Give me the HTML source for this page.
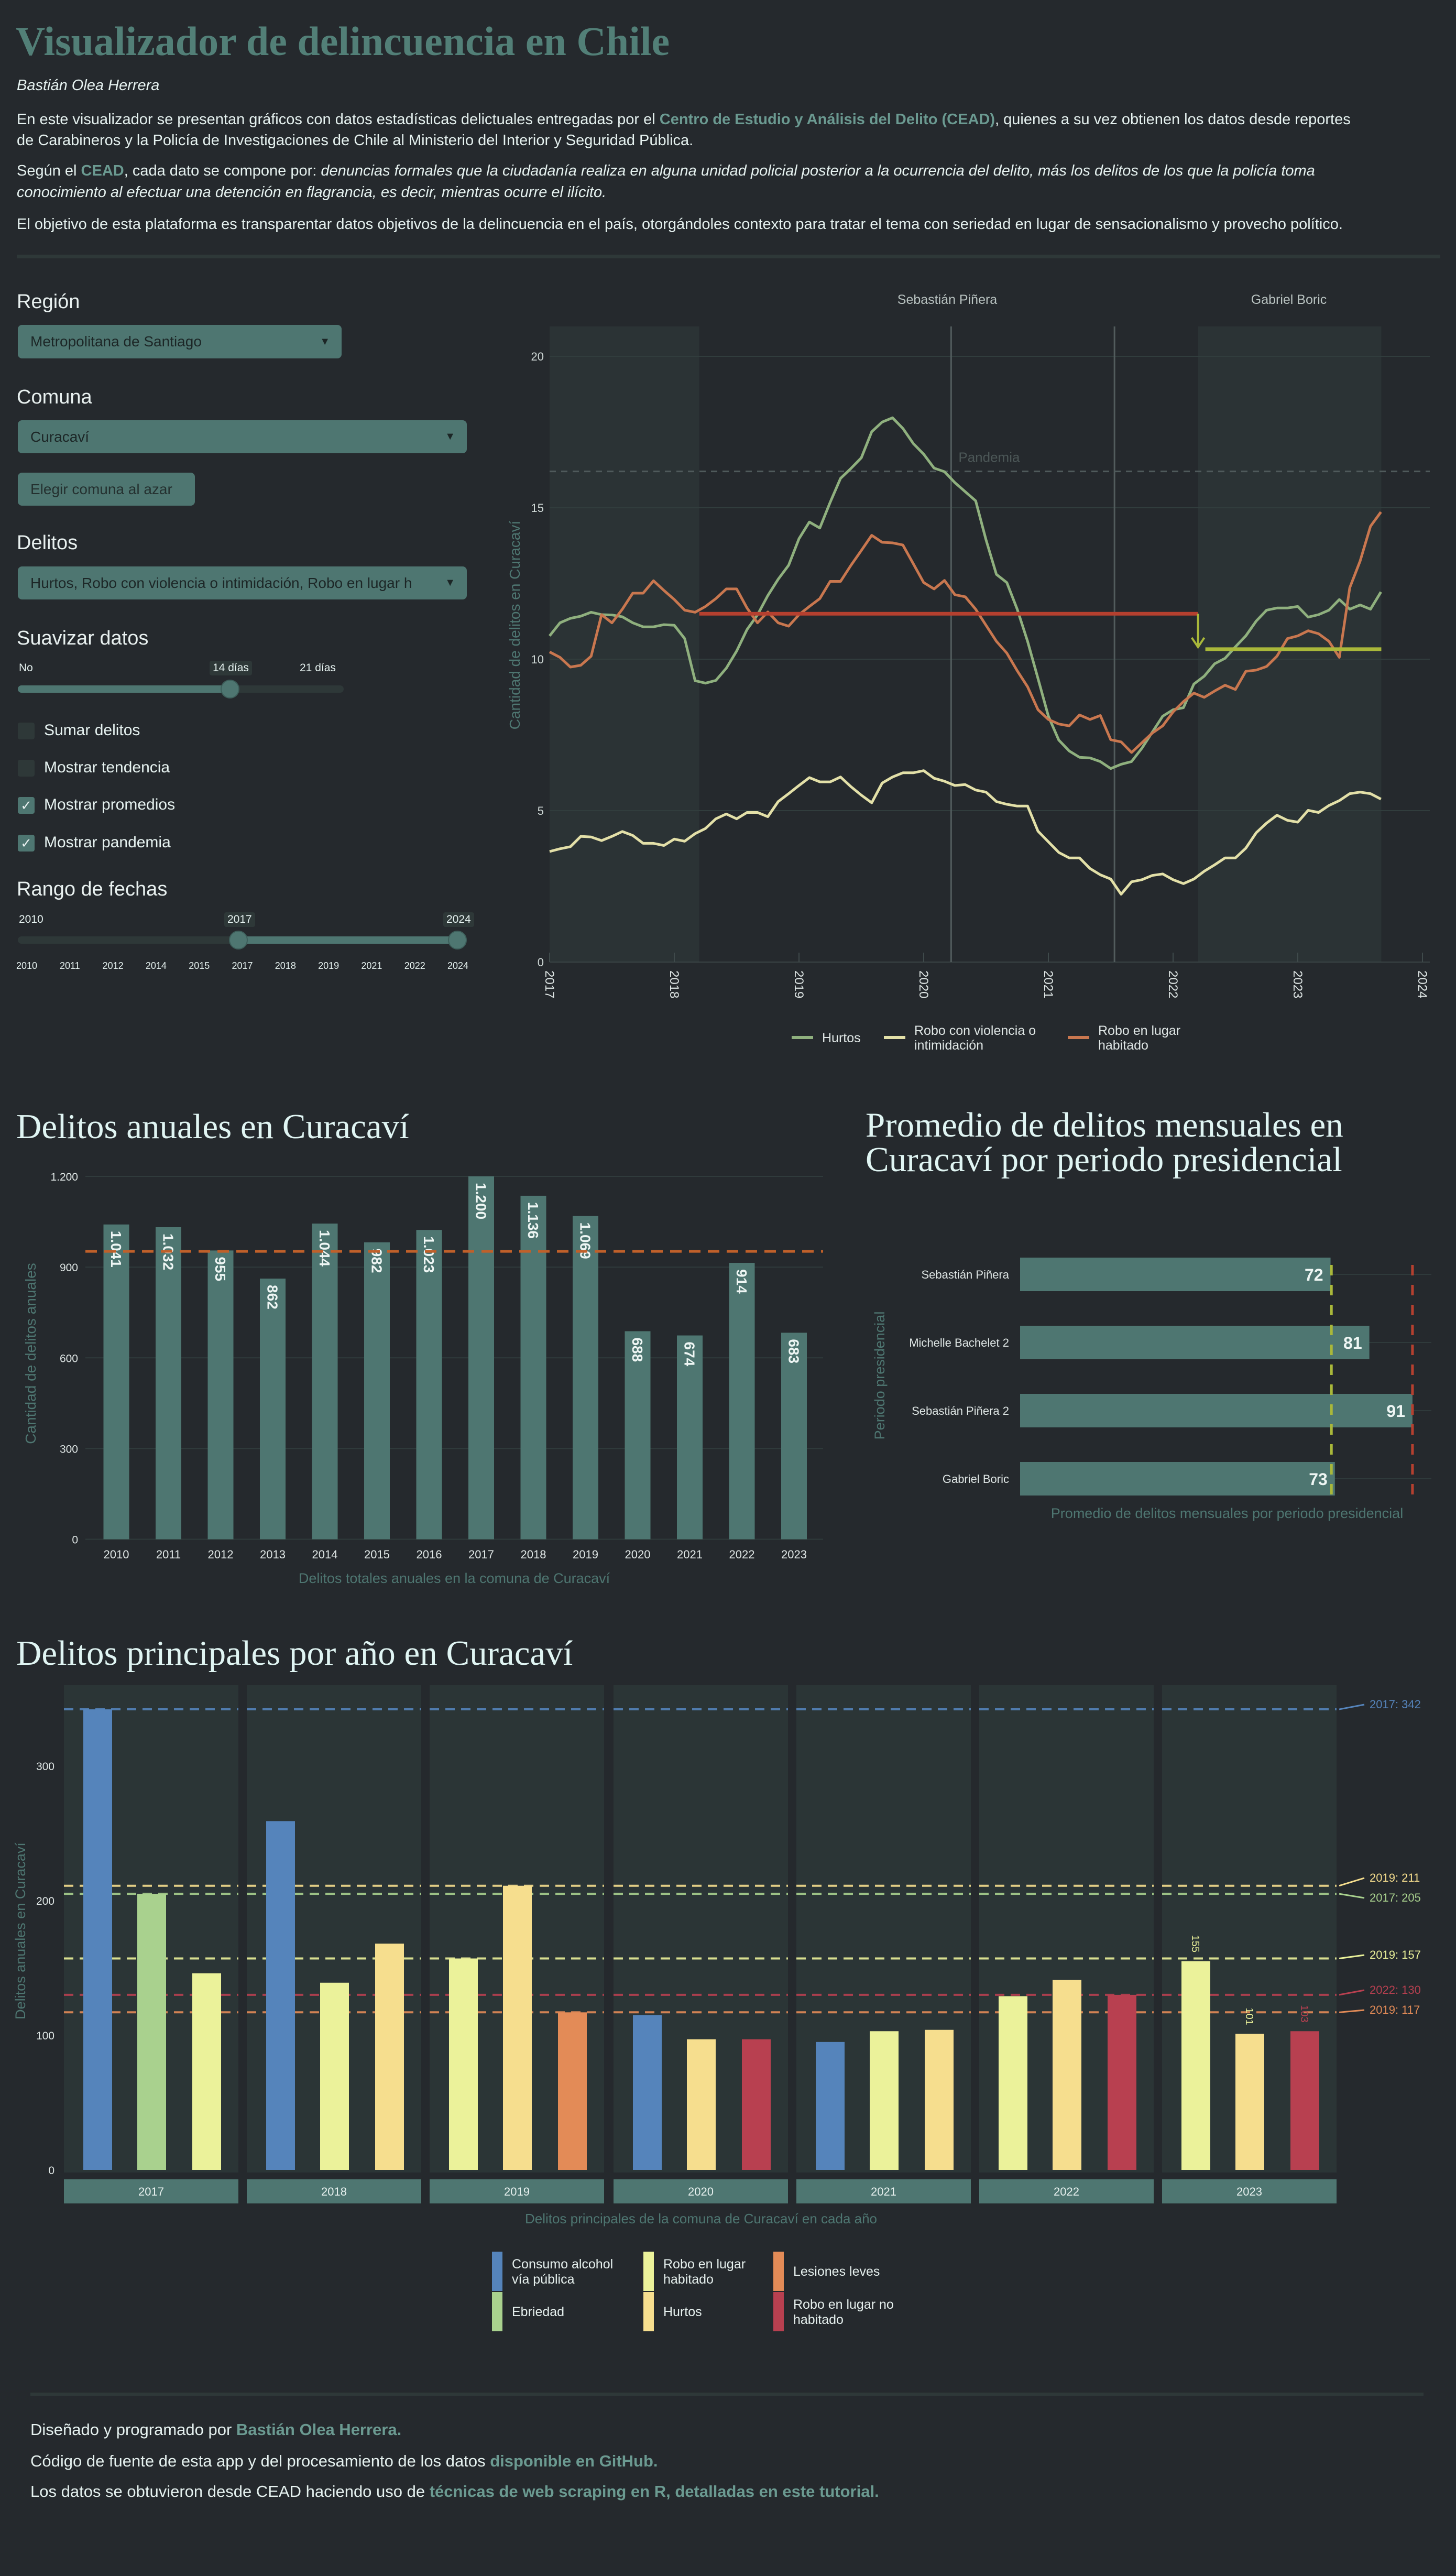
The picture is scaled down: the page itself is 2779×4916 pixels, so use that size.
<!DOCTYPE html>
<html lang="es"><head><meta charset="utf-8">
<style>
html,body{margin:0;padding:0;}
body{width:2779px;height:4916px;background:#25292d;position:relative;overflow:hidden;font-family:"Liberation Sans",sans-serif;color:#e6f2f0;}
.abs{position:absolute;white-space:nowrap;}
.p{font-size:29px;left:32px;}
.lk{color:#6b9a91;font-weight:bold;}
.lbl{font-size:38px;left:32px;color:#e8f0ef;}
.sel{position:absolute;left:34px;background:#4e7671;border-radius:8px;color:#1c2626;font-size:28px;box-sizing:border-box;padding-left:24px;display:flex;align-items:center;}
.sel .car{position:absolute;right:22px;font-size:20px;color:#1c2626;}
.cb{position:absolute;left:34px;width:32px;height:32px;border-radius:4px;background:#2e3838;color:#e8f0ef;font-size:26px;text-align:center;line-height:32px;}
.cbt{font-size:30px;left:84px;}
.sm{font-size:21px;}
.tag{background:#2e3838;padding:2px 6px;border-radius:4px;}
.stitle{font-family:"Liberation Serif",serif;font-size:67px;color:#e0f5f3;}
svg text{font-family:"Liberation Sans",sans-serif;}
</style></head>
<body>
<div class="abs" style="left:30px;top:34px;font-family:'Liberation Serif',serif;font-weight:bold;font-size:78px;color:#527f77;">Visualizador de delincuencia en Chile</div>
<div class="abs" style="left:32px;top:147px;font-size:29px;font-style:italic;">Bastián Olea Herrera</div>
<div class="abs p" style="top:212px;">En este visualizador se presentan gráficos con datos estadísticas delictuales entregadas por el <span class="lk">Centro de Estudio y Análisis del Delito (CEAD)</span>, quienes a su vez obtienen los datos desde reportes</div>
<div class="abs p" style="top:252px;">de Carabineros y la Policía de Investigaciones de Chile al Ministerio del Interior y Seguridad Pública.</div>
<div class="abs p" style="top:310px;">Según el <span class="lk">CEAD</span>, cada dato se compone por: <i>denuncias formales que la ciudadanía realiza en alguna unidad policial posterior a la ocurrencia del delito, más los delitos de los que la policía toma</i></div>
<div class="abs p" style="top:351px;"><i>conocimiento al efectuar una detención en flagrancia, es decir, mientras ocurre el ilícito.</i></div>
<div class="abs p" style="top:412px;">El objetivo de esta plataforma es transparentar datos objetivos de la delincuencia en el país, otorgándoles contexto para tratar el tema con seriedad en lugar de sensacionalismo y provecho político.</div>
<div class="abs" style="left:32px;top:486px;width:2717px;height:7px;background:#2e3838;"></div>

<!-- sidebar -->
<div class="abs lbl" style="top:555px;">Región</div>
<div class="sel" style="top:620px;width:618px;height:64px;">Metropolitana de Santiago<span class="car">▼</span></div>
<div class="abs lbl" style="top:737px;">Comuna</div>
<div class="sel" style="top:802px;width:857px;height:63px;">Curacaví<span class="car">▼</span></div>
<div class="sel" style="top:902px;width:338px;height:63px;color:#24302f;">Elegir comuna al azar</div>
<div class="abs lbl" style="top:1015px;">Delitos</div>
<div class="sel" style="top:1081px;width:857px;height:63px;overflow:hidden;">Hurtos, Robo con violencia o intimidación, Robo en lugar h<span class="car">▼</span></div>
<div class="abs lbl" style="top:1197px;">Suavizar datos</div>
<div class="abs sm" style="left:36px;top:1263px;">No</div>
<div class="abs sm tag" style="left:400px;top:1261px;">14 días</div>
<div class="abs sm" style="left:572px;top:1263px;">21 días</div>
<div class="abs" style="left:34px;top:1308px;width:622px;height:14px;border-radius:7px;background:#2e3838;"></div>
<div class="abs" style="left:34px;top:1308px;width:405px;height:14px;border-radius:7px;background:#4e7671;"></div>
<div class="abs" style="left:421px;top:1297px;width:36px;height:36px;border-radius:18px;background:#4e7671;border:2px solid #3d5e5a;box-sizing:border-box;"></div>
<div class="cb" style="top:1379px;"></div>
<div class="abs cbt" style="top:1377px;">Sumar delitos</div>
<div class="cb" style="top:1450px;"></div>
<div class="abs cbt" style="top:1448px;">Mostrar tendencia</div>
<div class="cb" style="top:1521px;background:#4e7671;">✓</div>
<div class="abs cbt" style="top:1519px;">Mostrar promedios</div>
<div class="cb" style="top:1593px;background:#4e7671;">✓</div>
<div class="abs cbt" style="top:1591px;">Mostrar pandemia</div>
<div class="abs lbl" style="top:1676px;">Rango de fechas</div>
<div class="abs sm" style="left:36px;top:1743px;">2010</div>
<div class="abs sm tag" style="left:428px;top:1741px;">2017</div>
<div class="abs sm tag" style="left:846px;top:1741px;">2024</div>
<div class="abs" style="left:34px;top:1787px;width:840px;height:14px;border-radius:7px;background:#2e3838;"></div>
<div class="abs" style="left:455px;top:1787px;width:418px;height:14px;background:#4e7671;"></div>
<div class="abs" style="left:437px;top:1776px;width:36px;height:36px;border-radius:18px;background:#4e7671;border:2px solid #3d5e5a;box-sizing:border-box;"></div>
<div class="abs" style="left:855px;top:1776px;width:36px;height:36px;border-radius:18px;background:#4e7671;border:2px solid #3d5e5a;box-sizing:border-box;"></div>
<div id="dateticks"></div>

<div class="abs stitle" style="left:31px;top:2112px;">Delitos anuales en Curacaví</div>
<div class="abs stitle" style="left:1652px;top:2114px;line-height:66px;">Promedio de delitos mensuales en<br>Curacaví por periodo presidencial</div>
<div class="abs stitle" style="left:31px;top:3117px;">Delitos principales por año en Curacaví</div>

<div class="abs" style="left:58px;top:4566px;width:2659px;height:6px;background:#2e3838;"></div>
<div class="abs" style="left:58px;top:4619px;font-size:31px;">Diseñado y programado por <span class="lk">Bastián Olea Herrera.</span></div>
<div class="abs" style="left:58px;top:4679px;font-size:31px;">Código de fuente de esta app y del procesamiento de los datos <span class="lk">disponible en GitHub.</span></div>
<div class="abs" style="left:58px;top:4737px;font-size:31px;">Los datos se obtuvieron desde CEAD haciendo uso de <span class="lk">técnicas de web scraping en R, detalladas en este tutorial.</span></div>

<svg id="charts" width="2779" height="4916" style="position:absolute;left:0;top:0;" xmlns="http://www.w3.org/2000/svg"></svg>

<script>
// ---------- line chart data ----------
const lineSeriesNames = ["Hurtos","Robo con violencia o intimidación","Robo en lugar habitado"];
const hurtos = [10.77,11.2,11.35,11.42,11.55,11.47,11.46,11.4,11.2,11.07,11.07,11.14,11.12,10.68,9.29,9.21,9.3,9.7,10.27,10.98,11.46,12.1,12.64,13.1,13.98,14.53,14.33,15.18,15.97,16.3,16.65,17.51,17.83,17.97,17.62,17.12,16.77,16.31,16.19,15.83,15.53,15.23,13.94,12.8,12.53,11.65,10.59,9.36,8.12,7.33,6.97,6.76,6.74,6.62,6.39,6.53,6.62,7.06,7.59,8.12,8.33,8.4,9.18,9.44,9.85,10.03,10.41,10.77,11.26,11.62,11.69,11.69,11.74,11.39,11.47,11.62,11.97,11.65,11.79,11.65,12.22];
const roboViolencia = [3.65,3.74,3.81,4.15,4.13,4.01,4.15,4.31,4.18,3.92,3.92,3.85,4.06,3.99,4.24,4.41,4.73,4.89,4.73,4.94,4.94,4.8,5.3,5.56,5.83,6.09,5.95,5.95,6.11,5.79,5.51,5.26,5.91,6.11,6.25,6.25,6.32,6.07,5.97,5.83,5.86,5.68,5.61,5.3,5.21,5.15,5.15,4.32,3.97,3.62,3.44,3.44,3.09,2.88,2.74,2.24,2.65,2.72,2.86,2.91,2.72,2.59,2.74,3.0,3.21,3.44,3.44,3.76,4.27,4.59,4.85,4.68,4.62,5.01,4.94,5.17,5.33,5.56,5.61,5.56,5.38];
const roboHabitado = [10.24,10.06,9.74,9.8,10.1,11.47,11.2,11.65,12.18,12.18,12.59,12.27,11.97,11.62,11.55,11.74,12.0,12.32,12.32,11.69,11.2,11.56,11.2,11.09,11.47,11.74,12.0,12.57,12.57,13.1,13.59,14.09,13.86,13.84,13.77,13.15,12.53,12.32,12.6,12.13,12.06,11.65,11.12,10.59,10.2,9.62,9.09,8.33,8.01,7.86,7.8,8.16,8.01,8.14,7.34,7.27,6.92,7.24,7.56,7.8,8.26,8.6,8.88,8.74,8.95,9.14,9.0,9.6,9.64,9.76,10.1,10.68,10.77,10.94,10.84,10.59,10.06,12.36,13.24,14.39,14.86];
const lineYTicks = [0,5,10,15,20];
const lineXTicks = [2017,2018,2019,2020,2021,2022,2023,2024];
const govStarts = [2018.2,2022.2];
const govEnds = [2022.2,2023.67];
const govAverages = [11.5,10.33];
const pandemicLevel = [16.2];
const pandemicDates = [2020.22,2021.53];

// ---------- annual chart data ----------
const annualYears = [2010,2011,2012,2013,2014,2015,2016,2017,2018,2019,2020,2021,2022,2023];
const annualValues = [1041,1032,955,862,1044,982,1023,1200,1136,1069,688,674,914,683];
const annualTicks = [0,300,600,900,1200];
const annualAverage = [952];

// ---------- presidential chart data ----------
const presLabels = ["Sebastián Piñera","Michelle Bachelet  2","Sebastián Piñera  2","Gabriel Boric"];
const presValues = [72,81,91,73];
const presRefs = [72.2,91];

// ---------- facet chart data ----------
const facetYears = ["2017","2018","2019","2020","2021","2022","2023"];
const facetCats = [["Consumo alcohol vía pública","Ebriedad","Robo en lugar habitado"],["Consumo alcohol vía pública","Robo en lugar habitado","Hurtos"],["Robo en lugar habitado","Hurtos","Lesiones leves"],["Consumo alcohol vía pública","Hurtos","Robo en lugar no habitado"],["Consumo alcohol vía pública","Robo en lugar habitado","Hurtos"],["Robo en lugar habitado","Hurtos","Robo en lugar no habitado"],["Robo en lugar habitado","Hurtos","Robo en lugar no habitado"]];
const facetValues = [[342,205,146],[259,139,168],[157,211,117],[115,97,97],[95,103,104],[129,141,130],[155,101,103]];
const facetTicks = [0,100,200,300];
const facetRefValues = [342,211,205,157,130,117];
const facetRefLabels = ["2017: 342","2019: 211","2017: 205","2019: 157","2022: 130","2019: 117"];
const facetRefCats = ["Consumo alcohol vía pública","Hurtos","Ebriedad","Robo en lugar habitado","Robo en lugar no habitado","Lesiones leves"];

const catColors = {"Consumo alcohol vía pública":"#5584bb","Ebriedad":"#a9d18e","Robo en lugar habitado":"#ebf29a","Hurtos":"#f6de8e","Lesiones leves":"#e38b57","Robo en lugar no habitado":"#b84050"};

const svg = document.getElementById('charts');
const NS = "http://www.w3.org/2000/svg";
function mk(tag, attrs, parent){
  const e = document.createElementNS(NS, tag);
  for (const k in attrs) e.setAttribute(k, attrs[k]);
  (parent||svg).appendChild(e);
  return e;
}
function txt(s, attrs, parent){ const t = mk('text', attrs, parent); t.textContent = s; return t; }

// date slider ticks
const dtLabels = ["2010","2011","2012","2014","2015","2017","2018","2019","2021","2022","2024"];
const dtWrap = document.getElementById('dateticks');
dtLabels.forEach((l,i)=>{
  const d = document.createElement('div');
  
  
  d.className = 'abs';
  d.style.cssText = 'font-size:18px;top:1833px;left:'+(51+i*82.3-20)+'px;width:40px;text-align:center;';
  d.textContent = l;
  dtWrap.appendChild(d);
});

// ================= LINE CHART =================
const lx = t => 1049 + (t-2017)*238;
const ly = v => 1836 - v*57.8;
const L = mk('g',{});


let s1 = mk('rect',{x:lx(2017),y:623,width:lx(2018.2)-lx(2017),height:ly(0)-623,fill:'#2b3335'},L);


let s2 = mk('rect',{x:lx(govStarts[1]),y:623,width:lx(govEnds[1])-lx(govStarts[1]),height:ly(0)-623,fill:'#2b3335'},L);


lineYTicks.forEach(v=>{
  if(v>0){ const g = mk('line',{x1:lx(2017),x2:2729,y1:ly(v),y2:ly(v),stroke:'#313d3d','stroke-width':2},L);
  
   }
  const t = txt(String(v),{x:1038,y:ly(v)+8,'text-anchor':'end','font-size':22,fill:'#cfd8d6'},L);
  
  
});
const axl = mk('line',{x1:lx(2017),x2:2729,y1:ly(0),y2:ly(0),stroke:'#3a4445','stroke-width':2},L);


lineXTicks.forEach(yr=>{
  const tk = mk('line',{x1:lx(yr),x2:lx(yr),y1:ly(0)-18,y2:ly(0),stroke:'#3f4a4b','stroke-width':2},L);
  
  
  const t = txt(String(yr),{x:0,y:0,'font-size':24,fill:'#dfe6e5',transform:`translate(${lx(yr)-8},${ly(0)+16}) rotate(90)`},L);
  
  
});
pandemicDates.forEach(d=>{
  const v = mk('line',{x1:lx(d),x2:lx(d),y1:623,y2:ly(0),stroke:'#525c5d','stroke-width':3},L);
  
  
});
const pl = mk('line',{x1:lx(2017),x2:2729,y1:ly(pandemicLevel[0]),y2:ly(pandemicLevel[0]),stroke:'#4f5a5b','stroke-width':3,'stroke-dasharray':'12,10'},L);


const pt = txt('Pandemia',{x:lx(pandemicDates[0])+14,y:ly(pandemicLevel[0])-18,'font-size':26,fill:'#4c5757'},L);


const pres1 = txt('Sebastián Piñera',{x:1808,y:580,'text-anchor':'middle','font-size':25,fill:'#b9c3c1'},L);


const pres2 = txt('Gabriel Boric',{x:2460,y:580,'text-anchor':'middle','font-size':25,fill:'#b9c3c1'},L);


const yt = txt('Cantidad de delitos en Curacaví',{x:0,y:0,'text-anchor':'middle','font-size':28,fill:'#4e7671',transform:'translate(992,1193) rotate(-90)'},L);


const seriesData = [hurtos, roboViolencia, roboHabitado];
const seriesColors = ['#8fb07e','#e3e0a8','#c9774f'];
seriesData.forEach((arr,si)=>{
  const d = arr.map((v,i)=>(i?'L':'M')+lx(2017+i/12).toFixed(1)+','+ly(v).toFixed(1)).join(' ');
  const p = mk('path',{d:d,fill:'none',stroke:seriesColors[si],'stroke-width':5,'stroke-linejoin':'round'},L);
  
  
});
const av1 = mk('line',{x1:lx(govStarts[0]),x2:lx(govEnds[0]),y1:ly(govAverages[0]),y2:ly(govAverages[0]),stroke:'#b5402f','stroke-width':7},L);


const av2 = mk('line',{x1:lx(govStarts[1])+14,x2:lx(govEnds[1]),y1:ly(govAverages[1]),y2:ly(govAverages[1]),stroke:'#a9b83a','stroke-width':7},L);


const ax = lx(govStarts[1]);
const arw = mk('path',{d:`M${ax},${ly(govAverages[0])} L${ax},${ly(govAverages[1])-4} M${ax-12},${ly(govAverages[1])-22} L${ax},${ly(govAverages[1])-4} L${ax+12},${ly(govAverages[1])-22}`,fill:'none',stroke:'#a9b83a','stroke-width':4},L);


// legend
const legX = [1511,1687,2038];
const legText = [["Hurtos"],["Robo con violencia o","intimidación"],["Robo en lugar","habitado"]];
legX.forEach((x,i)=>{
  const ln = mk('line',{x1:x,x2:x+41,y1:1980,y2:1980,stroke:seriesColors[i],'stroke-width':6},L);
  
  
  legText[i].forEach((s,j)=>{
    const yy = legText[i].length===1 ? 1989 : 1975 + j*28;
    const t = txt(s,{x:x+58,y:yy,'font-size':25,fill:'#dfe6e5'},L);
    
    
  });
});

// ================= ANNUAL BAR CHART =================
const A = mk('g',{});


const ax0 = 222, astep = 99.5;
const axx = i => ax0 + i*astep;
const ay = v => 2937.5 - v*(692.5/1200);
const fmt = v => v>=1000 ? Math.floor(v/1000)+'.'+String(v%1000).padStart(3,'0') : String(v);
annualTicks.forEach(v=>{
  const g = mk('line',{x1:163,x2:1571,y1:ay(v),y2:ay(v),stroke:'#303b3c','stroke-width':2},A);
  
  
  const t = txt(fmt(v),{x:149,y:ay(v)+8,'text-anchor':'end','font-size':21,fill:'#dfe6e5'},A);
  
  
});
annualValues.forEach((v,i)=>{
  const r = mk('rect',{x:axx(i)-24.5,y:ay(v),width:49,height:ay(0)-ay(v),fill:'#4e7671'},A);
  
  
  const t = txt(fmt(v),{x:0,y:0,'font-size':28,'font-weight':'bold',fill:'#eef6f4',transform:`translate(${axx(i)-10},${ay(v)+12}) rotate(90)`},A);
  
  
  const yl = txt(String(annualYears[i]),{x:axx(i),y:2974,'text-anchor':'middle','font-size':22,fill:'#dfe6e5'},A);
  
  
});
const aavg = mk('line',{x1:163,x2:1571,y1:ay(annualAverage[0]),y2:ay(annualAverage[0]),stroke:'#c0602a','stroke-width':5,'stroke-dasharray':'22,14'},A);


const axt = txt('Delitos totales anuales en la comuna de Curacaví',{x:867,y:3021,'text-anchor':'middle','font-size':27,fill:'#4e7671'},A);


const ayt = txt('Cantidad de delitos anuales',{x:0,y:0,'text-anchor':'middle','font-size':28,fill:'#4e7671',transform:'translate(68,2583) rotate(-90)'},A);



// ================= PRESIDENTIAL CHART =================
const P = mk('g',{});


const px = v => 1947 + v*8.23;
const pyc = i => 2432 + i*130;
presValues.forEach((v,i)=>{
  const g = mk('line',{x1:1947,x2:2732,y1:pyc(i),y2:pyc(i),stroke:'#2f3a3b','stroke-width':2},P);
  
  
  const r = mk('rect',{x:1947,y:pyc(i)-32,width:px(v)-1947,height:64,fill:'#4e7671'},P);
  
  
  const t = txt(String(v),{x:px(v)-14,y:pyc(i)+12,'text-anchor':'end','font-size':32,'font-weight':'bold',fill:'#eef6f4'},P);
  
  
  const l = txt(presLabels[i],{x:1926,y:pyc(i)+8,'text-anchor':'end','font-size':22,fill:'#dfe6e5'},P);
  
  
});
const refCols = ['#a9b83a','#b5402f'];
presRefs.forEach((v,i)=>{
  const l = mk('line',{x1:px(v),x2:px(v),y1:2414,y2:2862,stroke:refCols[i],'stroke-width':5,'stroke-dasharray':'20,18'},P);
  
  
});
const pxt = txt('Promedio de delitos mensuales por periodo presidencial',{x:2342,y:2897,'text-anchor':'middle','font-size':27,fill:'#4e7671'},P);


const pyt = txt('Periodo presidencial',{x:0,y:0,'text-anchor':'middle','font-size':27,fill:'#4e7671',transform:'translate(1688,2625) rotate(-90)'},P);



// ================= FACET CHART =================
const F = mk('g',{});


const panelX = [122,471,820,1171,1520,1869,2218];
const panelW = 333;
const fy = v => 4141 - v*2.57;
const barOff = [64,167,272];
facetTicks.forEach(v=>{
  const t = txt(String(v),{x:104,y:fy(v)+8,'text-anchor':'end','font-size':21,fill:'#dfe6e5'},F);
  
  
});
facetYears.forEach((yr,pi)=>{
  const x0 = panelX[pi];
  const bg = mk('rect',{x:x0,y:3216,width:panelW,height:4146-3216,fill:'#2b3536'},F);
  
  
  const st = mk('rect',{x:x0,y:4159,width:panelW,height:46,fill:'#4e7671'},F);
  
  
  const stt = txt(yr,{x:x0+panelW/2,y:4190,'text-anchor':'middle','font-size':22,fill:'#e6f0ee'},F);
  
  
  facetRefValues.forEach((v,ri)=>{
    const dl = mk('line',{x1:x0,x2:x0+panelW,y1:fy(v),y2:fy(v),stroke:catColors[facetRefCats[ri]],'stroke-width':4,'stroke-dasharray':'18,12',opacity:0.9},F);
    
    
  });
  facetValues[pi].forEach((v,bi)=>{
    const cat = facetCats[pi][bi];
    const r = mk('rect',{x:x0+barOff[bi]-27,y:fy(v),width:55,height:fy(0)-fy(v),fill:catColors[cat]},F);
    
    
  });
});
facetValues[6].forEach((v,bi)=>{
  const t = txt(String(v),{x:0,y:0,'font-size':20,fill:bi===2?'#b84050':'#ebf29a',transform:`translate(${panelX[6]+barOff[bi]-7},${fy(v)-50}) rotate(90)`},F);
  
  
});
const labelY = [3260,3591,3629,3738,3805,3843];
facetRefValues.forEach((v,ri)=>{
  const col = catColors[facetRefCats[ri]];
  const c = mk('line',{x1:2556,x2:2604,y1:fy(v),y2:labelY[ri]-7,stroke:col,'stroke-width':3},F);
  
  
  const t = txt(facetRefLabels[ri],{x:2614,y:labelY[ri],'font-size':22,fill:col},F);
  
  
});
const fxt = txt('Delitos principales de la comuna de  Curacaví en cada año',{x:1338,y:4243,'text-anchor':'middle','font-size':26,fill:'#4e7671'},F);


const fyt = txt('Delitos anuales en Curacaví',{x:0,y:0,'text-anchor':'middle','font-size':27,fill:'#4e7671',transform:'translate(48,3685) rotate(-90)'},F);


const legCats = [["Consumo alcohol vía pública","Ebriedad"],["Robo en lugar habitado","Hurtos"],["Lesiones leves","Robo en lugar no habitado"]];
const legLines = [[["Consumo alcohol","vía pública"],["Ebriedad"]],[["Robo en lugar","habitado"],["Hurtos"]],[["Lesiones leves"],["Robo en lugar no","habitado"]]];
const legCol = [939,1228,1476];
legCats.forEach((col,ci)=>{
  col.forEach((cat,ri)=>{
    const y0 = 4297 + ri*77;
    const sw = mk('rect',{x:legCol[ci],y:y0,width:20,height:75,fill:catColors[cat]},F);
    
    
    const lines = legLines[ci][ri];
    lines.forEach((s,j)=>{
      const yy = lines.length===1 ? y0+46 : y0+32+j*29;
      const t = txt(s,{x:legCol[ci]+38,y:yy,'font-size':25,fill:'#e6f0ee'},F);
      
      
    });
  });
});
</script>
</body></html>
